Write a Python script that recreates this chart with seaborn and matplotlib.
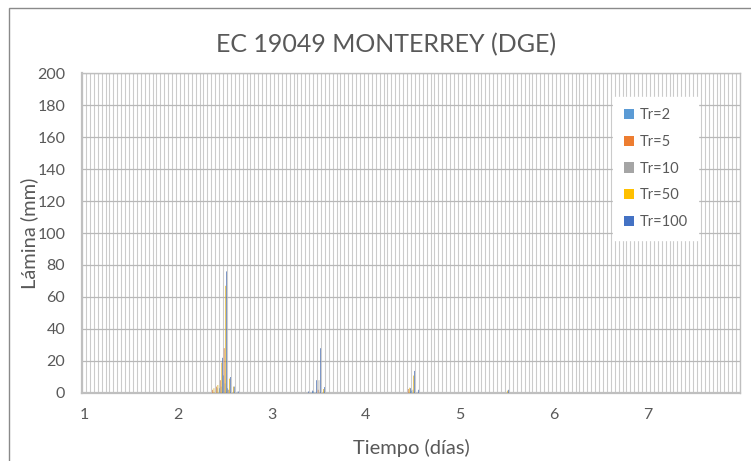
import numpy as np
import pandas as pd
import matplotlib
matplotlib.use("Agg")
import matplotlib.pyplot as plt
from matplotlib.patches import Patch, Rectangle
import seaborn as sns

# ---------------- data ----------------
series_names = ["Tr=2", "Tr=5", "Tr=10", "Tr=50", "Tr=100"]
colors = ["#5B9BD5", "#ED7D31", "#A5A5A5", "#FFC000", "#4472C4"]
n_hours = 168  # 7 days, hourly
day_labels = ["1", "2", "3", "4", "5", "6", "7"]
day_ticks = [0, 24, 48, 72, 96, 120, 144]

# non-zero hours (index from day 1, 0h) and lamina values (mm)
tr2_hours = [35, 36, 37, 59, 84]
tr2_vals = [3, 11, 3, 1, 1.5]
tr5_hours = [33, 34, 35, 36, 37, 60, 83]
tr5_vals = [2, 4, 8, 28, 2, 2, 2.5]
tr10_hours = [34, 35, 36, 37, 60, 84]
tr10_vals = [3, 4, 6, 2, 8, 2]
tr50_hours = [33, 34, 35, 36, 37, 38, 61, 83, 84, 108]
tr50_vals = [3, 5, 19, 67, 9, 4, 2.5, 3.3, 10.9, 1.5]
tr100_hours = [35, 36, 37, 38, 39, 57, 58, 59, 60, 61, 83, 84, 85, 108]
tr100_vals = [22, 76, 10, 4, 1, 1, 1.5, 8, 28, 3.7, 3, 13.8, 2, 2]

hours_list = [tr2_hours, tr5_hours, tr10_hours, tr50_hours, tr100_hours]
vals_list = [tr2_vals, tr5_vals, tr10_vals, tr50_vals, tr100_vals]

rows = []
for name, hrs, vals in zip(series_names, hours_list, vals_list):
    full = np.zeros(n_hours)
    full[hrs] = vals
    for h in range(n_hours):
        rows.append({"hora": h, "lamina": full[h], "serie": name})
df = pd.DataFrame(rows)

# ---------------- plot ----------------
sns.set_theme(style="white")
plt.rcParams["font.family"] = ["Lato", "DejaVu Sans"]
text_color = "#595959"

fig = plt.figure(figsize=(7.51, 4.61), dpi=100)
ax = fig.add_axes([82 / 751, 1 - 393 / 461, 658 / 751, 320 / 461])

sns.barplot(data=df, x="hora", y="lamina", hue="serie", order=list(range(n_hours)),
            hue_order=series_names, palette=colors, width=0.95, linewidth=0,
            errorbar=None, legend=False, ax=ax)
for p in ax.patches:
    p.set_snap(False)
    p.set_zorder(3)

ax.set_xlim(-0.5, n_hours - 0.5)
ax.set_ylim(0, 200)
ax.set_yticks(np.arange(0, 201, 20))
ax.set_xticks(day_ticks)
ax.set_xticklabels(day_labels)
ax.set_xticks(np.arange(-0.5, n_hours, 1), minor=True)
ax.tick_params(axis="both", which="both", length=0, labelsize=11.5, colors=text_color)
ax.tick_params(axis="x", pad=11)
ax.tick_params(axis="y", pad=12)

ax.grid(False)
ax.grid(which="minor", axis="x", color="#cbcbcb", linewidth=0.8)
ax.grid(which="major", axis="y", color="#b8b8b8", linewidth=0.9)
ax.set_axisbelow(True)

for side, sp in ax.spines.items():
    sp.set_visible(True)
    sp.set_color("#bfbfbf")
    sp.set_linewidth(1.0)
ax.spines["bottom"].set_linewidth(1.6)
ax.spines["left"].set_linewidth(1.6)

ax.set_xlabel("Tiempo (días)", fontsize=14.5, color=text_color)
ax.xaxis.set_label_coords(0.5, -0.143)
ax.set_ylabel("Lámina (mm)", fontsize=14.5, color=text_color)
ax.yaxis.set_label_coords((38 - 82) / 658, 0.5)
fig.text(386 / 751, 1 - 45 / 461, "EC 19049 MONTERREY (DGE)", fontsize=18,
         color=text_color, ha="center", va="center")

handles = [Patch(facecolor=c, edgecolor="none", label=n) for c, n in zip(colors, series_names)]
leg = ax.legend(handles=handles, loc="upper left", bbox_to_anchor=(0.807, 0.925),
                frameon=True, fancybox=False, framealpha=1, edgecolor="white",
                facecolor="white", fontsize=10.5, labelspacing=0.88, handlelength=0.7,
                handleheight=0.7, handletextpad=0.35, borderpad=0.75, borderaxespad=0)
leg.set_zorder(5)
for t in leg.get_texts():
    t.set_color(text_color)

fig.patches.append(Rectangle((9 / 751, -0.05), 1.2, 1.05 - 8 / 461,
                             transform=fig.transFigure, fill=False,
                             edgecolor="#8a8a8a", linewidth=1.0, zorder=0))

fig.savefig("out.png", dpi=100)
